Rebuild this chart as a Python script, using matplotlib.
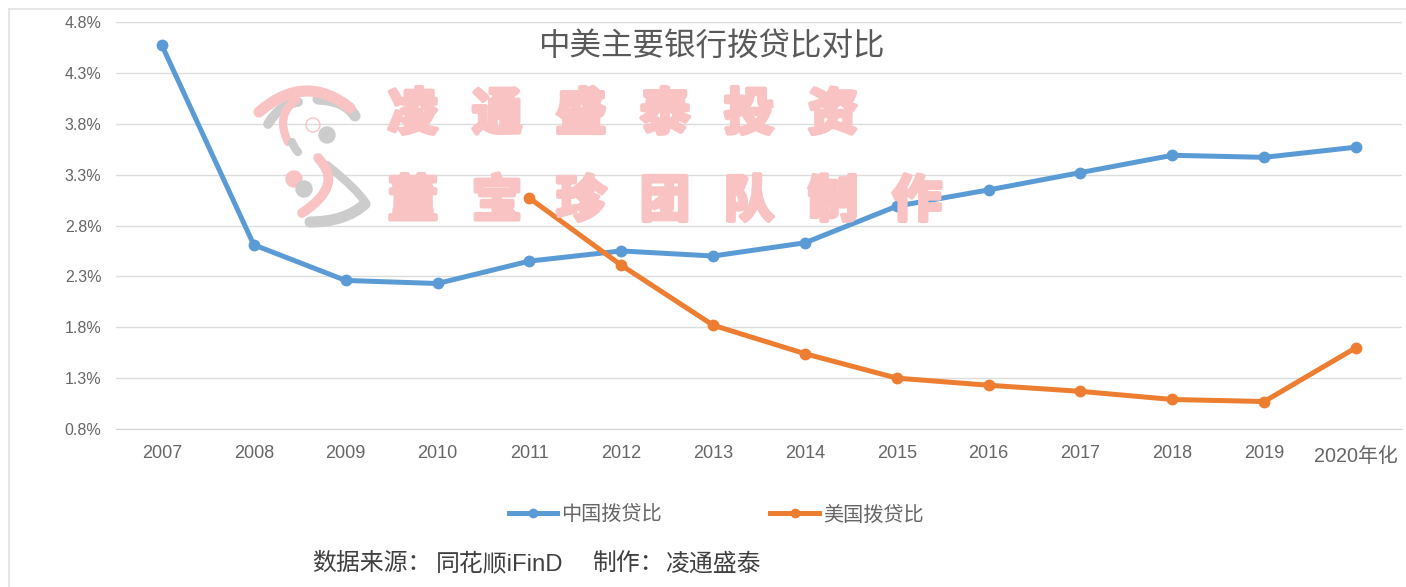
import matplotlib
matplotlib.use("Agg")
import matplotlib.pyplot as plt
import matplotlib.patheffects as pe
from matplotlib.path import Path
from matplotlib.patches import PathPatch, Circle
from matplotlib.lines import Line2D
from matplotlib.transforms import ScaledTranslation

plt.rcParams["font.family"] = ["Liberation Sans", "Noto Sans CJK SC", "DejaVu Sans"]

years = ["2007", "2008", "2009", "2010", "2011", "2012", "2013", "2014", "2015", "2016", "2017", "2018", "2019", "2020年化"]
china = [4.57, 2.61, 2.26, 2.23, 2.45, 2.55, 2.50, 2.63, 2.99, 3.15, 3.32, 3.49, 3.47, 3.57]
usa = [None, None, None, None, 3.07, 2.41, 1.82, 1.54, 1.30, 1.23, 1.17, 1.09, 1.07, 1.60]
yticks = [0.8, 1.3, 1.8, 2.3, 2.8, 3.3, 3.8, 4.3, 4.8]
wm_line1 = "凌通盛泰投资"
wm_line2 = "董宝珍团队制作"

W, H = 1406, 587
BLUE = "#5b9bd5"
ORANGE = "#ed7d31"
PINK = "#f9c3c3"
GREY = "#cccccc"

fig = plt.figure(figsize=(W / 100, H / 100), dpi=100)
ax = fig.add_axes([116 / W, 1 - 429 / H, 1286 / W, 407 / H])

xs = list(range(len(years)))
ax.plot(xs, china, color=BLUE, lw=3.6, marker="o", ms=7.5, label="中国拨贷比", zorder=3)
ax.plot(xs, [float("nan") if v is None else v for v in usa], color=ORANGE, lw=3.6, marker="o", ms=7.5, label="美国拨贷比", zorder=3)

ax.set_xlim(-0.5, 13.5)
ax.set_ylim(0.8, 4.8)
ax.set_yticks(yticks)
ax.set_yticklabels([f"{v:.1f}%" for v in yticks], fontsize=11.5, color="#666666")
ax.set_xticks(xs)
ax.set_xticklabels(years, fontsize=13, color="#666666")
ax.tick_params(length=0)
ax.tick_params(axis="x", pad=11.5)
ax.tick_params(axis="y", pad=10.5)
ax.grid(axis="y", color="#dcdcdc", lw=1)
ax.set_axisbelow(True)
for s in ["top", "left", "right"]:
    ax.spines[s].set_visible(False)
ax.spines["bottom"].set_color("#d5d5d5")

# last label sits a little lower and uses the CJK font size
last = ax.get_xticklabels()[-1]
last.set_fontsize(14.3)
last.set_transform(last.get_transform() + ScaledTranslation(0, -1.5 / 72, fig.dpi_scale_trans))

fig.text(712 / W, 1 - 47 / H, "中美主要银行拨贷比对比", fontsize=22.7, color="#595959", ha="center", va="center")

handles, labels = ax.get_legend_handles_labels()
fig.legend(handles, labels, loc="center", bbox_to_anchor=(716 / W, 1 - 515 / H), ncol=2, frameon=False,
           fontsize=14.5, labelcolor="#666666", handlelength=2.4, handletextpad=0.2, columnspacing=5.4, markerscale=0.8)

for x, s in [(312, "数据来源："), (436, "同花顺iFinD"), (592, "制作："), (665, "凌通盛泰")]:
    fig.text(x / W, 1 - 564 / H, s, fontsize=17.2, color="#404040", ha="left", va="center")

# overlay in pixel coords for frame and watermark
ov = fig.add_axes([0, 0, 1, 1], zorder=5)
ov.set_xlim(0, W)
ov.set_ylim(H, 0)
ov.axis("off")
ov.patch.set_alpha(0)

ov.add_line(Line2D([9, W], [9, 9], color="#e2e2e2", lw=1.2))
ov.add_line(Line2D([9, 9], [9, H], color="#e2e2e2", lw=1.2))

heavy = [pe.withStroke(linewidth=3, foreground=PINK)]
for i, ch in enumerate(wm_line1):
    ov.text(413 + i * 84, 115, ch, fontsize=36, fontweight="black", color=PINK,
            ha="center", va="center", family=["Noto Sans CJK SC"], path_effects=heavy)
for i, ch in enumerate(wm_line2):
    ov.text(413 + i * 84, 202, ch, fontsize=36, fontweight="black", color=PINK,
            ha="center", va="center", family=["Noto Sans CJK SC"], path_effects=heavy)


def stroke(p0, p1, p2, color, lw):
    path = Path([p0, p1, p2], [Path.MOVETO, Path.CURVE3, Path.CURVE3])
    ov.add_patch(PathPatch(path, fill=False, edgecolor=color, lw=lw, capstyle="round"))


# logo
stroke((268, 124), (280, 104), (298, 102), GREY, 7)
stroke((318, 99), (345, 100), (355, 116), GREY, 8)
stroke((259, 112), (305, 72), (350, 108), PINK, 8)
stroke((296, 100), (275, 115), (288, 142), PINK, 6)
stroke((292, 142), (294, 148), (298, 152), GREY, 6)
ov.add_patch(Circle((313, 125), 7, fill=False, edgecolor=PINK, lw=1))
ov.add_patch(Circle((327, 135), 8, color=GREY))
ov.add_patch(Circle((294, 179), 8, color=PINK))
ov.add_patch(Circle((304, 189), 8, color=GREY))
stroke((327, 165), (358, 190), (365, 202), GREY, 6)
stroke((365, 204), (345, 222), (310, 222), GREY, 8)
stroke((318, 158), (345, 185), (302, 213), PINK, 7)

fig.savefig("out.png", dpi=100)
